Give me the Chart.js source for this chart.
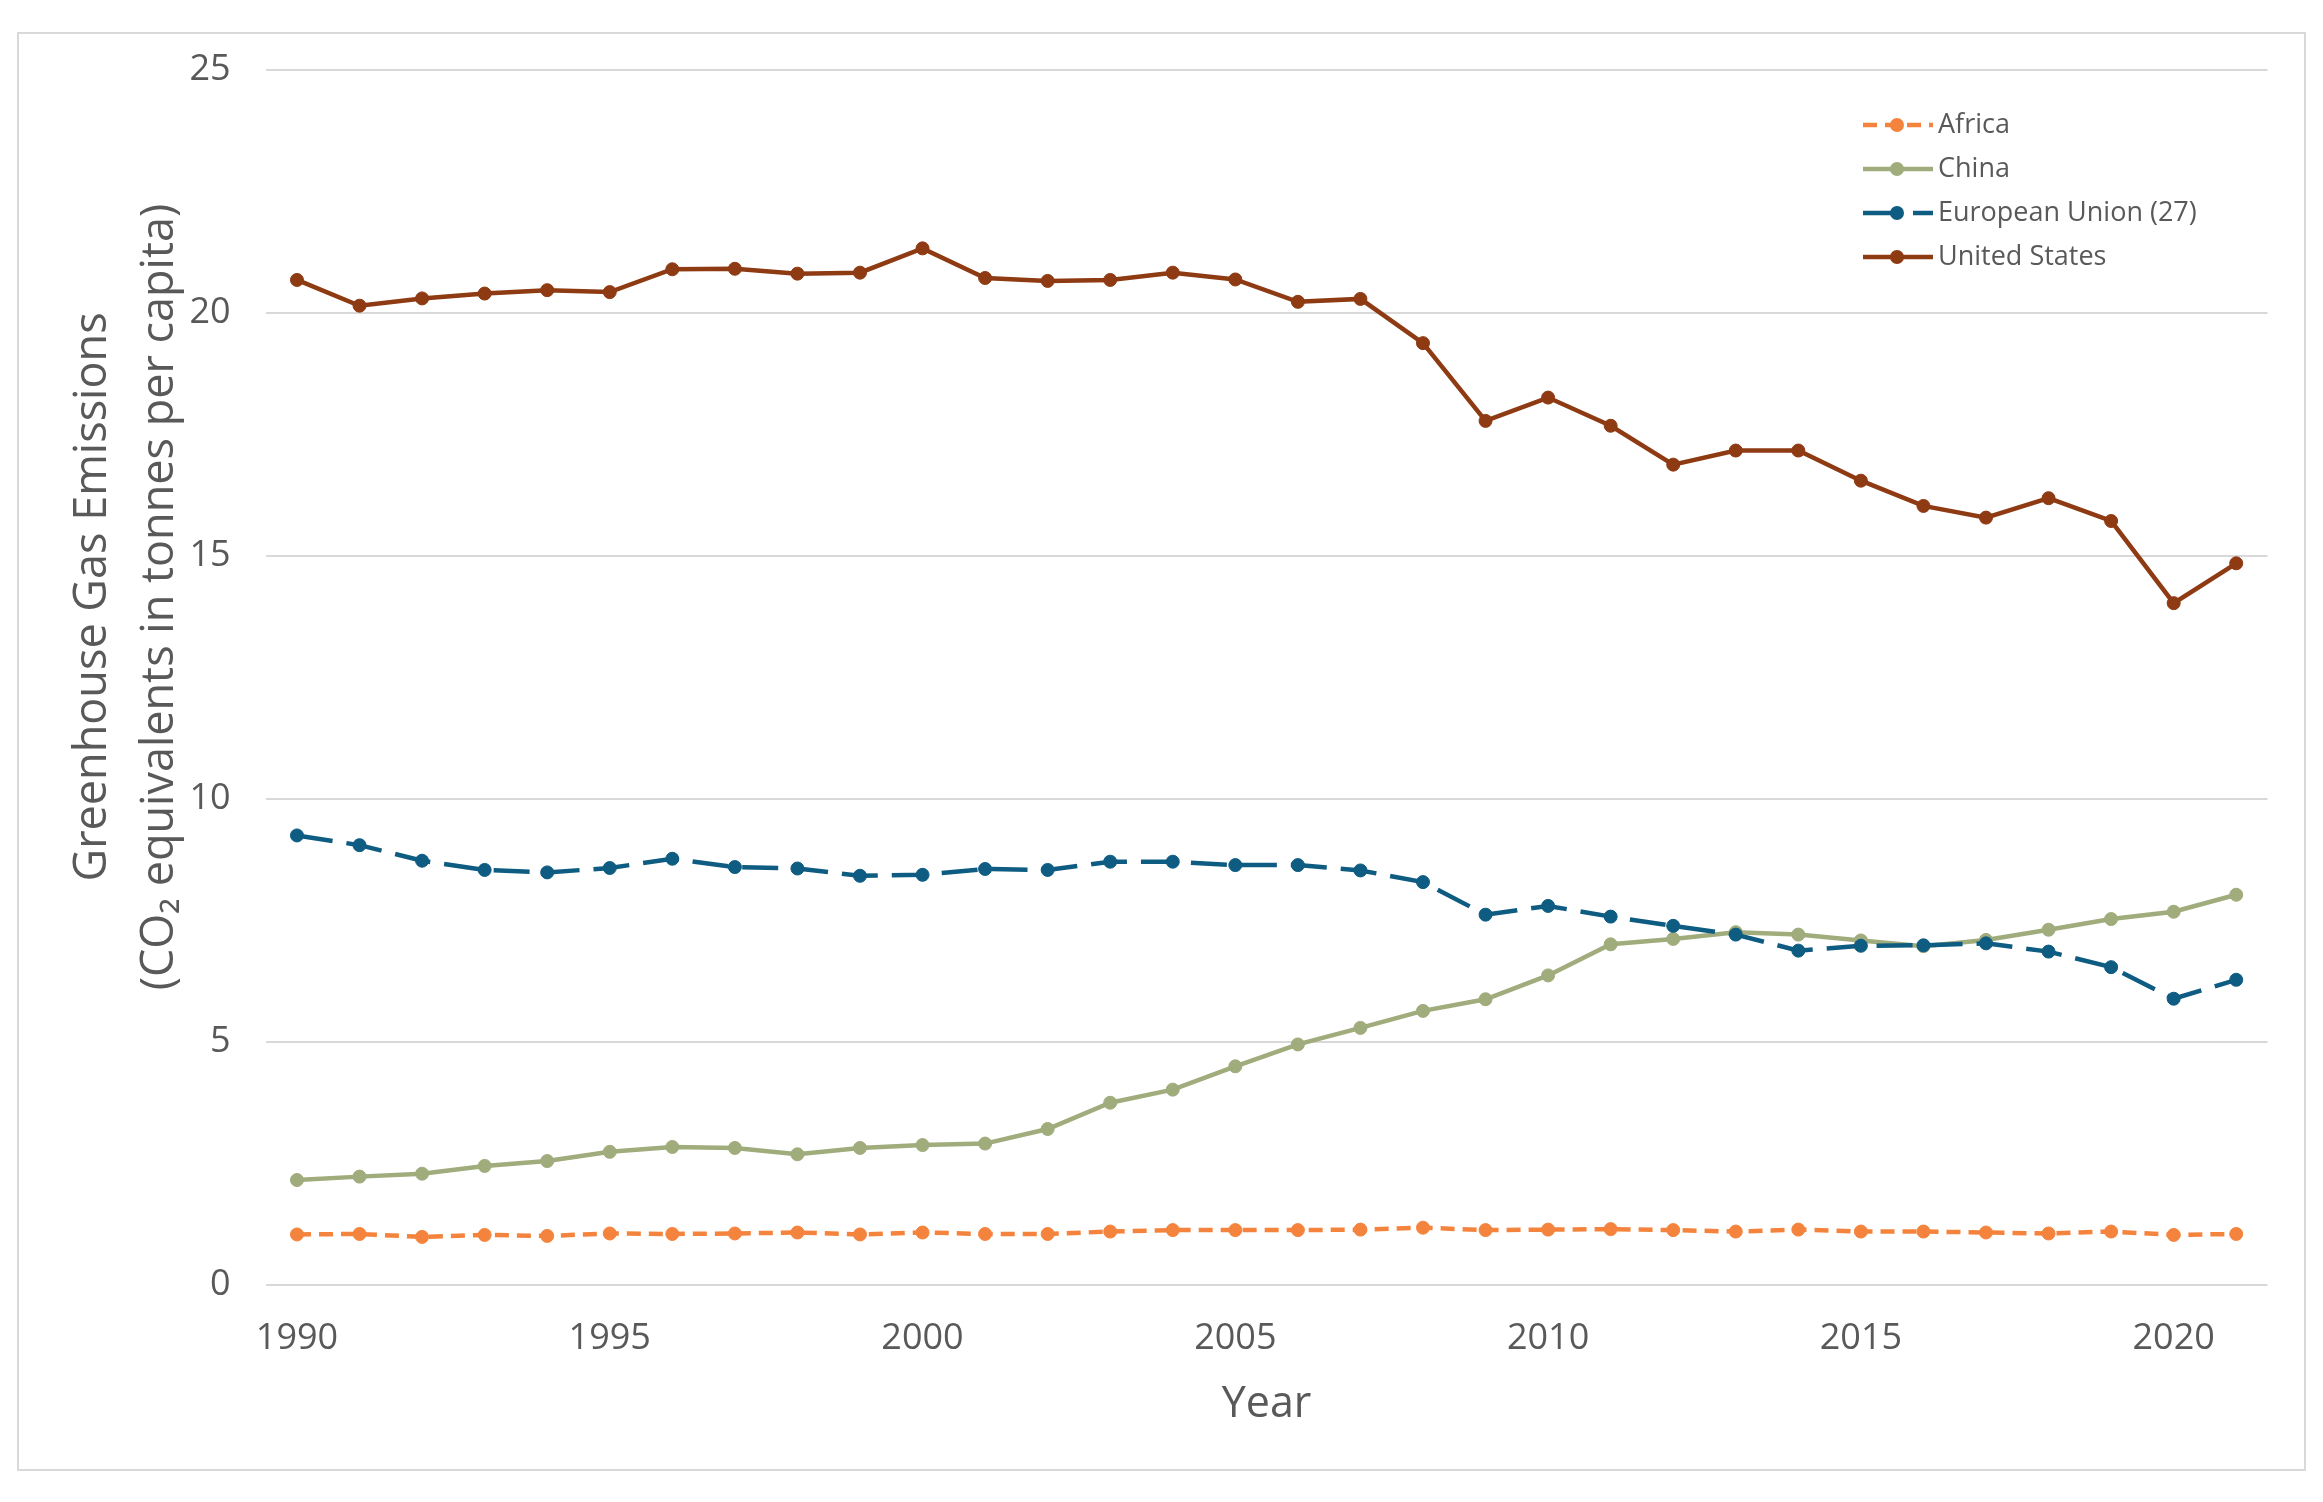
<!DOCTYPE html>
<html>
<head>
<meta charset="utf-8">
<script src="https://cdn.jsdelivr.net/npm/chart.js@4.4.0/dist/chart.umd.min.js"></script>
<style>
  html, body { margin: 0; padding: 0; background: #fff; }
  canvas { display: block; }
</style>
</head>
<body>
<canvas id="mycanvas" width="2323" height="1502"></canvas>
<script>
// data
var years = ['1990','1991','1992','1993','1994','1995','1996','1997','1998','1999',
             '2000','2001','2002','2003','2004','2005','2006','2007','2008','2009',
             '2010','2011','2012','2013','2014','2015','2016','2017','2018','2019',
             '2020','2021'];
var yearLabels = ['1990','1995','2000','2005','2010','2015','2020'];

var africa = [1.04,1.05,0.99,1.03,1.01,1.06,1.05,1.06,1.08,1.04,1.08,
              1.05,1.05,1.10,1.13,1.13,1.13,1.14,1.18,1.13,1.14,1.15,
              1.13,1.10,1.14,1.10,1.10,1.08,1.06,1.10,1.03,1.05];
var china = [2.16,2.23,2.29,2.45,2.55,2.74,2.84,2.82,2.69,2.82,2.88,
             2.91,3.21,3.75,4.02,4.50,4.95,5.29,5.64,5.88,6.37,7.01,
             7.12,7.26,7.21,7.09,6.97,7.10,7.31,7.53,7.68,8.03];
var eu = [9.25,9.05,8.73,8.54,8.49,8.58,8.77,8.60,8.57,8.42,8.44,
          8.56,8.54,8.71,8.71,8.64,8.64,8.53,8.29,7.62,7.80,7.58,
          7.39,7.21,6.88,6.98,6.99,7.03,6.86,6.54,5.89,6.28];
var us = [20.68,20.15,20.30,20.40,20.47,20.43,20.90,20.91,20.81,20.83,21.33,
          20.72,20.66,20.68,20.83,20.69,20.23,20.29,19.38,17.78,18.26,17.68,
          16.88,17.17,17.17,16.55,16.03,15.79,16.19,15.72,14.03,14.85];

var textColor = '#595959';
var fontName = '"Open Sans", "Noto Sans", sans-serif';

function series(label, data, color, dash, order) {
    return {
        label : label,
        data : data,
        borderColor : color,
        backgroundColor : color,
        borderWidth : 4.5,
        borderDash : dash,
        tension : 0,
        fill : false,
        pointRadius : 6.5,
        pointHoverRadius : 6.5,
        pointBackgroundColor : color,
        pointBorderColor : color,
        pointBorderWidth : 1,
        order : order
    };
}

// white background + light frame
var framePlugin = {
    id : 'frame',
    beforeDraw : function(chart){
        var ctx = chart.ctx;
        ctx.save();
        ctx.fillStyle = '#ffffff';
        ctx.fillRect(0, 0, chart.width, chart.height);
        ctx.strokeStyle = '#d9d9d9';
        ctx.lineWidth = 2;
        ctx.strokeRect(18, 33, 2287, 1437);
        ctx.restore();
    }
};

// two-line y title, sits a bit above the plot centre like the original
var yTitlePlugin = {
    id : 'yTitle',
    afterDraw : function(chart){
        var ctx = chart.ctx;
        var lines = [
            {text : 'Greenhouse Gas Emissions', x : 93},
            {text : '(CO\u2082 equivalents in tonnes per capita)', x : 160}
        ];
        ctx.save();
        ctx.fillStyle = textColor;
        ctx.font = '45px ' + fontName;
        ctx.textAlign = 'center';
        ctx.textBaseline = 'middle';
        lines.forEach(function(l){
            ctx.save();
            ctx.translate(l.x, 597);
            ctx.rotate(-Math.PI / 2);
            ctx.fillText(l.text, 0, 0);
            ctx.restore();
        });
        ctx.restore();
    }
};

// legend inside plot, top right, line + marker symbols
var legendPlugin = {
    id : 'insideLegend',
    afterDraw : function(chart){
        var ctx = chart.ctx;
        ctx.save();
        chart.data.datasets.forEach(function(ds, i){
            var y = 125 + i * 44;
            ctx.strokeStyle = ds.borderColor;
            ctx.lineWidth = 4.5;
            ctx.setLineDash(ds.borderDash || []);
            ctx.beginPath();
            ctx.moveTo(1863, y);
            ctx.lineTo(1933, y);
            ctx.stroke();
            ctx.setLineDash([]);
            ctx.fillStyle = ds.borderColor;
            ctx.beginPath();
            ctx.arc(1897, y, 7, 0, Math.PI * 2);
            ctx.fill();
            ctx.fillStyle = textColor;
            ctx.font = '27px ' + fontName;
            ctx.textAlign = 'left';
            ctx.textBaseline = 'middle';
            ctx.fillText(ds.label, 1938, y);
        });
        ctx.restore();
    }
};

var chardata = {
    labels : years,
    datasets : [
        series('Africa', africa, '#f4843d', [14, 8], 4),
        series('China', china, '#a0ac7c', [], 3),
        series('European Union (27)', eu, '#0e5c82', [36, 14], 2),
        series('United States', us, '#8e3a12', [], 1)
    ]
};

var ctx = document.getElementById('mycanvas');
var LineGraph = new Chart(ctx, {
    type : 'line',
    data : chardata,
    plugins : [framePlugin, yTitlePlugin, legendPlugin],
    options : {
        responsive : false,
        devicePixelRatio : 1,
        animation : false,
        layout : {
            padding : {left : 190.7, right : 55.5, top : 70, bottom : 40}
        },
        plugins : {
            legend : {display : false},
            tooltip : {enabled : false}
        },
        scales : {
            x : {
                offset : true,
                grid : {display : false, drawTicks : false},
                border : {display : false},
                ticks : {
                    autoSkip : false,
                    maxRotation : 0,
                    padding : 32,
                    color : textColor,
                    font : {family : fontName, size : 36},
                    callback : function(value){
                        var lab = this.getLabelForValue(value);
                        return yearLabels.indexOf(lab) >= 0 ? lab : '';
                    }
                },
                title : {
                    display : true,
                    text : 'Year',
                    color : textColor,
                    font : {family : fontName, size : 43},
                    padding : {top : 0, bottom : 31}
                },
                afterFit : function(scale){ scale.height = 177; }
            },
            y : {
                min : 0,
                max : 25,
                grid : {color : '#d9d9d9', lineWidth : 2, drawTicks : false},
                border : {display : false},
                ticks : {
                    stepSize : 5,
                    padding : 35,
                    color : textColor,
                    font : {family : fontName, size : 36}
                },
                afterFit : function(scale){ scale.width = 75; }
            }
        }
    }
});
</script>
</body>
</html>
